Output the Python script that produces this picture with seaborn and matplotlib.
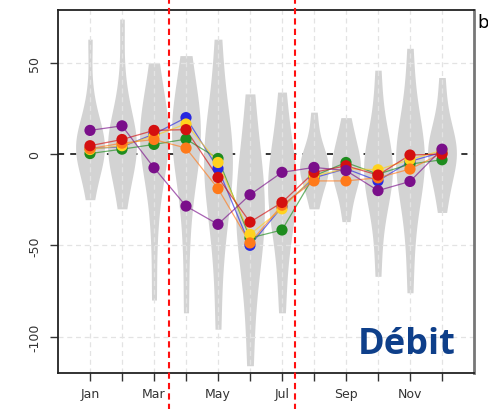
import pandas as pd
import matplotlib.pyplot as plt
import seaborn as sns

months = ["Jan", "Feb", "Mar", "Apr", "May", "Jun", "Jul", "Aug", "Sep", "Oct", "Nov", "Dec"]
tick_labels = ["Jan", "", "Mar", "", "May", "", "Jul", "", "Sep", "", "Nov", ""]

# distribution samples per month
violin_samples = {
    "Jan": [-25, -12, -5, 0, 3, 5, 7, 10, 16, 30, 63],
    "Feb": [-30, -15, -6, 0, 3, 6, 9, 13, 20, 38, 74],
    "Mar": [-80, -40, -15, -3, 3, 7, 11, 15, 22, 32, 50],
    "Apr": [-87, -45, -18, -4, 3, 9, 13, 18, 25, 36, 54],
    "May": [-96, -55, -35, -22, -12, -5, 0, 6, 15, 32, 63],
    "Jun": [-116, -80, -60, -48, -40, -32, -25, -16, -6, 8, 33],
    "Jul": [-87, -60, -42, -32, -25, -20, -15, -8, 0, 12, 34],
    "Aug": [-30, -22, -16, -12, -9, -7, -5, -2, 3, 10, 23],
    "Sep": [-37, -25, -18, -13, -10, -7, -4, 0, 5, 11, 20],
    "Oct": [-67, -40, -25, -17, -12, -9, -5, 0, 7, 20, 46],
    "Nov": [-76, -45, -25, -14, -8, -4, 0, 5, 13, 28, 58],
    "Dec": [-32, -20, -12, -6, -2, 1, 4, 8, 14, 24, 42],
}

# model series (monthly anomalies)
blue = [3, 4, 11, 20, -7.9, -50, -29, -13, -8, -14.7, -4, 1]
green = [0.3, 2.7, 5.3, 8.2, -2.4, -46, -41.6, -12, -4.6, -11, -5.5, -3.1]
yellow = [2.5, 4.6, 10, 16.5, -4.6, -44, -30, -12, -8, -8.6, -3, 2]
orange = [3, 6, 8, 3.3, -18.9, -48.7, -28, -14.7, -14.7, -13, -8.2, 0.5]
red = [4.6, 8, 13, 13.4, -12.8, -37.3, -26.5, -10, -6.4, -11.5, -0.5, 0]
purple = [13, 15.5, -7.5, -28.5, -38.5, -22.3, -10, -7.3, -9, -20, -15, 2.7]

series = [
    (blue, "#2828E0"),
    (green, "#1E8C1E"),
    (yellow, "#FFD21E"),
    (orange, "#FF7A1A"),
    (red, "#D41010"),
    (purple, "#7A0F8A"),
]

rows = [(m, v) for m in months for v in violin_samples[m]]
df = pd.DataFrame(rows, columns=["month", "value"])

fig = plt.figure(figsize=(4.89, 4.10), dpi=100)
ax = fig.add_axes([0.1186, 0.0878, 0.8507, 0.8854])

ax.axhline(0, color="black", lw=1.1, ls=(0, (4, 4)), zorder=0)

sns.violinplot(data=df, x="month", y="value", order=months, color="#D3D3D3",
               saturation=1, inner=None, linewidth=0, cut=0,
               density_norm="width", width=0.9, bw_adjust=0.9, ax=ax)
for c in ax.collections:
    c.set_zorder(1)

x = list(range(len(months)))
for vals, col in series:
    ax.plot(x, vals, color=col, lw=0.9, alpha=0.65, zorder=3)
    ax.scatter(x, vals, s=65, color=col, edgecolors="none", zorder=4)

# light dashed grid drawn over the violins
for xi in x:
    ax.axvline(xi, color="#E3E3E3", lw=0.9, ls=(0, (4, 3)), zorder=2)
for yi in [50, -50, -100]:
    ax.axhline(yi, color="#E3E3E3", lw=0.9, ls=(0, (4, 3)), zorder=2)

ax.set_xlim(-1, 12)
ax.set_ylim(-120, 79)
ax.set_xticks(x)
ax.set_xticklabels(tick_labels)
ax.set_yticks([-100, -50, 0, 50])
ax.set_yticklabels(["-100", "-50", "0", "50"], rotation=90, va="center")
ax.set_xlabel("")
ax.set_ylabel("")
ax.tick_params(axis="both", direction="out", length=6, width=1.0, color="#333333",
               labelsize=9, labelcolor="#333333", pad=4)
ax.tick_params(axis="y", pad=6)
for s in ax.spines.values():
    s.set_color("#222222")
    s.set_linewidth(1.3)
ax.spines["right"].set_color("#777777")
ax.spines["right"].set_linewidth(2)

# red dashed period separators across the whole figure height
for xv in [2.47, 6.4]:
    ax.axvline(xv, ymin=-0.11, ymax=1.04, color="#FF1010", lw=1.5,
               ls=(0, (3, 2)), clip_on=False, zorder=5)

fig.text(0.732, 0.1366, "Débit", fontsize=26, fontweight="bold",
         color="#0E3F8A", family="Open Sans", ha="left", va="baseline")
fig.text(0.976, 0.945, "b", fontsize=13, color="black", ha="left", va="center")

fig.savefig("out.png", dpi=100)
